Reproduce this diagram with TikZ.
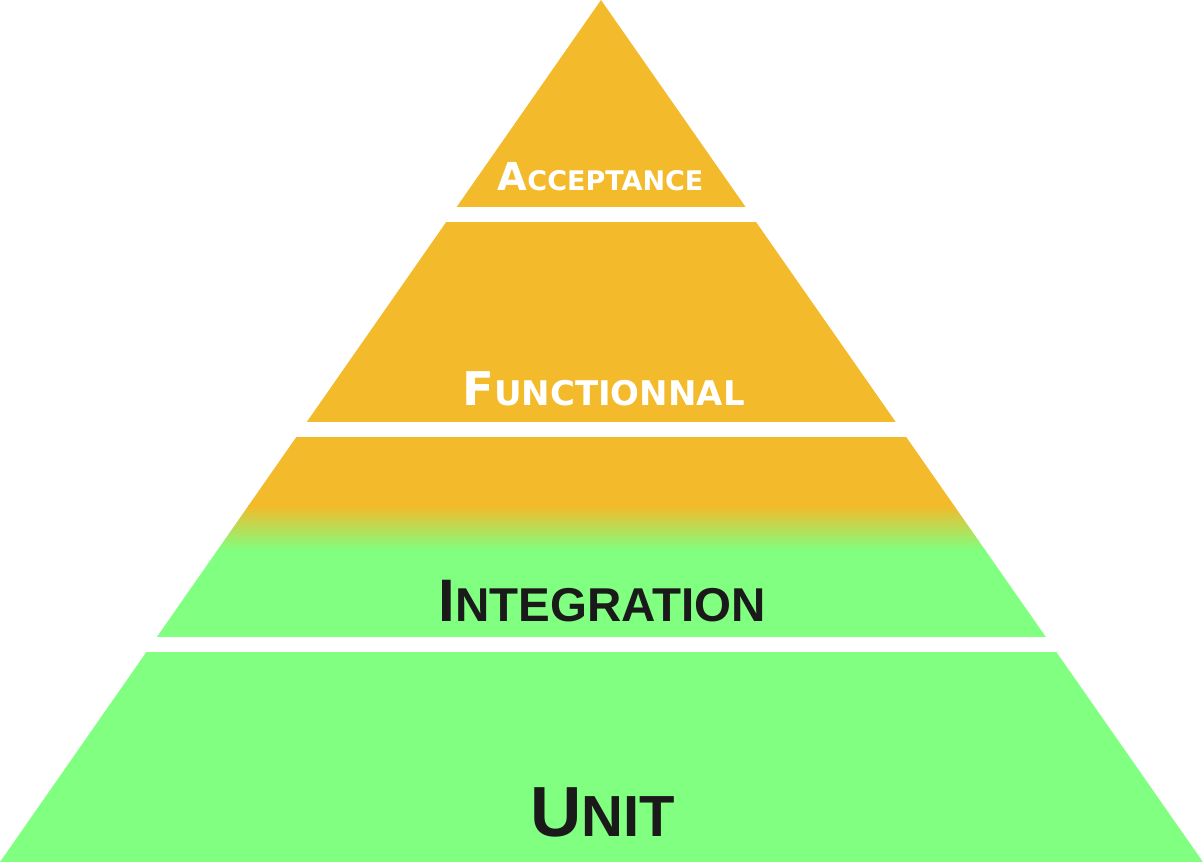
\documentclass[tikz,border=0pt]{standalone}
\usepackage{fontspec}
\newfontfamily\vfont{DejaVu Sans}
\newfontfamily\afont{Liberation Sans}
\definecolor{pyrorange}{HTML}{F3BA2B}
\definecolor{pyrgreen}{HTML}{80FF80}
\definecolor{pyrdark}{HTML}{1A1A1A}
\tikzset{
  lbl/.style={anchor=base, inner sep=0pt, font=\bfseries},
}
\begin{document}
\begin{tikzpicture}[x=1pt,y=-1pt]
\useasboundingbox (0,0) rectangle (1203,862);
\begin{scope}
  \clip (601,0) -- (1203,862) -- (0,862) -- cycle;
  \fill[pyrorange] (0,0) rectangle (1203,207);
  \fill[pyrorange] (0,222) rectangle (1203,422);
  \fill[pyrorange] (0,437) rectangle (1203,506);
  \shade[top color=pyrorange, bottom color=pyrgreen] (0,505.5) rectangle (1203,550.5);
  \fill[pyrgreen] (0,550) rectangle (1203,637);
  \fill[pyrgreen] (0,652) rectangle (1203,862);
\end{scope}
\node[lbl, text=white] (acc) at (600.5,190)
  {\vfont\bfseries{\fontsize{38.5}{38.5}\selectfont A}{\fontsize{27}{27}\selectfont CCEPTANCE}};
\node[lbl, text=white] (fun) at (603.5,405)
  {\vfont\bfseries{\fontsize{46.5}{46.5}\selectfont F}{\fontsize{34}{34}\selectfont UNCTIONNAL}};
\node[lbl, text=pyrdark] (int) at (602.5,621)
  {\afont\bfseries{\fontsize{60}{60}\selectfont I}{\fontsize{47.5}{47.5}\selectfont NTEGRATION}};
\node[lbl, text=pyrdark] (unit) at (602.5,836)
  {\afont\bfseries{\fontsize{71}{71}\selectfont U}{\fontsize{58}{58}\selectfont NIT}};
\end{tikzpicture}
\end{document}
